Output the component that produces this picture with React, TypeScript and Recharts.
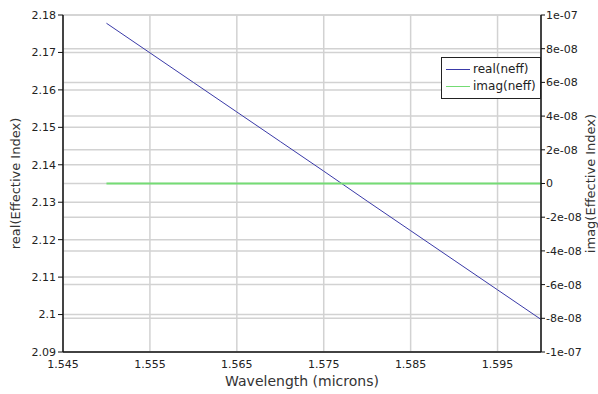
import {
  CartesianGrid,
  Line,
  LineChart,
  XAxis,
  YAxis,
} from 'recharts';

// wavelength sweep (microns)
const wavelengths = [1.55, 1.555, 1.56, 1.565, 1.57, 1.575, 1.58, 1.585, 1.59, 1.595, 1.6];
// effective index, real and imaginary part
const realNeff = [2.1778, 2.1699, 2.162, 2.1541, 2.1462, 2.1383, 2.1303, 2.1224, 2.1145, 2.1066, 2.0987];
const imagNeff = [0, 0, 0, 0, 0, 0, 0, 0, 0, 0, 0];

const xTicks = [1.545, 1.555, 1.565, 1.575, 1.585, 1.595];
const leftTicks = [2.09, 2.1, 2.11, 2.12, 2.13, 2.14, 2.15, 2.16, 2.17, 2.18];
const rightTicks = [-1e-7, -8e-8, -6e-8, -4e-8, -2e-8, 0, 2e-8, 4e-8, 6e-8, 8e-8, 1e-7];
const rightTickLabels = ['-1e-07', '-8e-08', '-6e-08', '-4e-08', '-2e-08', '0', '2e-08', '4e-08', '6e-08', '8e-08', '1e-07'];

const REAL_COLOR = '#3a3aa8';
const IMAG_COLOR = '#74dc74';
const FONT = '"DejaVu Sans", Verdana, sans-serif';

const series = [
  { key: 'real', name: 'real(neff)', color: REAL_COLOR },
  { key: 'imag', name: 'imag(neff)', color: IMAG_COLOR },
];

const data = wavelengths.map((w, i) => ({ w, real: realNeff[i], imag: imagNeff[i] }));

const tickStyle = { fill: '#222', fontSize: 11, fontFamily: FONT };

// legend drawn as a plain box over the plot so it takes no space from the axes
function LegendBox() {
  return (
    <div
      style={{
        position: 'absolute',
        left: 441,
        top: 57,
        border: '1px solid #222',
        background: '#fff',
        padding: '3px 4px 3px 4px',
        fontFamily: FONT,
        fontSize: 12,
        color: '#222',
        lineHeight: '17px',
      }}
    >
      {series.map(it => (
        <div key={it.name} style={{ display: 'flex', alignItems: 'center' }}>
          <span
            style={{
              display: 'inline-block',
              width: 24,
              height: 0,
              borderTop: `1px solid ${it.color}`,
              marginRight: 3,
            }}
          />
          {it.name}
        </div>
      ))}
    </div>
  );
}

export default function App() {
  return (
    <div style={{ position: 'absolute', left: 0, top: 0, width: 598, height: 394, background: '#fff' }}>
      <LineChart
        width={598}
        height={394}
        data={data}
        margin={{ top: 15, right: 0, bottom: 0, left: 3 }}
      >
        <CartesianGrid
          xAxisId='x'
          yAxisId='left'
          stroke='#d2d2d2'
          strokeWidth={1.5}
          vertical
          horizontal
        />
        <CartesianGrid
          xAxisId='x'
          yAxisId='right'
          stroke='#d2d2d2'
          strokeWidth={1.5}
          vertical={false}
          horizontal
        />
        <XAxis
          xAxisId='x'
          dataKey='w'
          type='number'
          domain={[1.545, 1.6]}
          ticks={xTicks}
          tickFormatter={v => v.toFixed(3)}
          tick={tickStyle}
          tickLine={false}
          tickMargin={2}
          height={42}
          axisLine={{ stroke: '#111', strokeWidth: 1.5 }}
          label={{
            content: ({ viewBox }: any) => (
              <text
                x={viewBox.x + viewBox.width / 2}
                y={386}
                textAnchor='middle'
                fontFamily={FONT}
                fontSize={14}
                fill='#333'
              >
                Wavelength (microns)
              </text>
            ),
          }}
        />
        <YAxis
          yAxisId='left'
          orientation='left'
          type='number'
          domain={[2.09, 2.18]}
          ticks={leftTicks}
          tickFormatter={v => String(Number(v.toFixed(2)))}
          tick={tickStyle}
          tickSize={5}
          tickMargin={2}
          tickLine={{ stroke: '#111' }}
          width={60}
          axisLine={{ stroke: '#111', strokeWidth: 1.5 }}
          label={{
            content: ({ viewBox }: any) => {
              const cy = viewBox.y + viewBox.height / 2;
              return (
                <text
                  x={20}
                  y={cy}
                  transform={`rotate(-90, 20, ${cy})`}
                  textAnchor='middle'
                  fontFamily={FONT}
                  fontSize={13}
                  fill='#333'
                >
                  real(Effective Index)
                </text>
              );
            },
          }}
        />
        <YAxis
          yAxisId='right'
          orientation='right'
          type='number'
          domain={[-1e-7, 1e-7]}
          ticks={rightTicks}
          tickFormatter={(v, i) => rightTickLabels[i]}
          tick={tickStyle}
          tickSize={4}
          tickMargin={1}
          tickLine={{ stroke: '#111' }}
          width={57}
          axisLine={{ stroke: '#111', strokeWidth: 1.5 }}
          label={{
            content: ({ viewBox }: any) => {
              const cy = viewBox.y + viewBox.height / 2;
              return (
                <text
                  x={595}
                  y={cy}
                  transform={`rotate(-90, 595, ${cy})`}
                  textAnchor='middle'
                  fontFamily={FONT}
                  fontSize={13}
                  fill='#333'
                >
                  imag(Effective Index)
                </text>
              );
            },
          }}
        />
        <Line
          xAxisId='x'
          yAxisId='left'
          dataKey='real'
          name='real(neff)'
          stroke={REAL_COLOR}
          strokeWidth={1}
          dot={false}
          isAnimationActive={false}
        />
        <Line
          xAxisId='x'
          yAxisId='right'
          dataKey='imag'
          name='imag(neff)'
          stroke={IMAG_COLOR}
          strokeWidth={2}
          dot={false}
          isAnimationActive={false}
        />
      </LineChart>
      <LegendBox />
    </div>
  );
}
